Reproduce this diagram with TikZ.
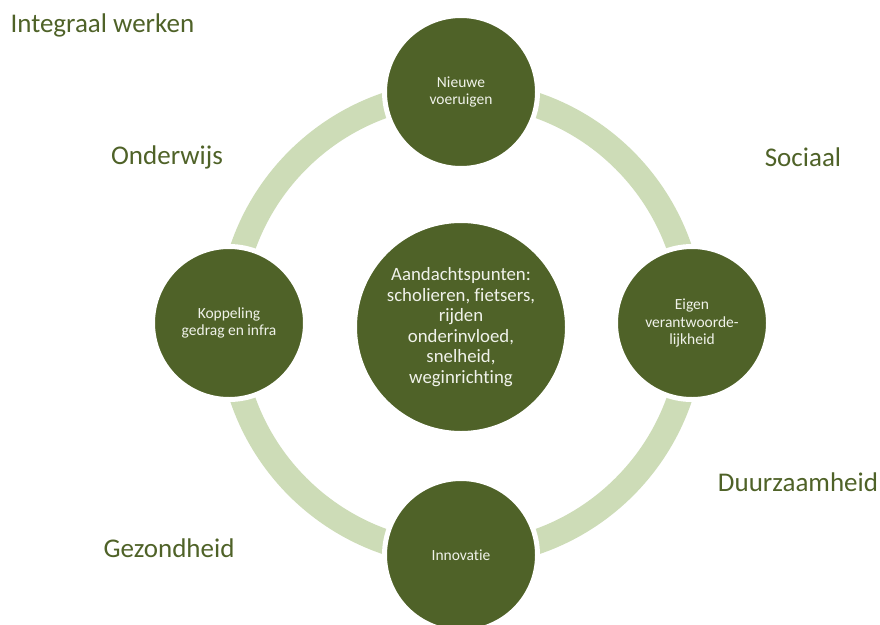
\documentclass[tikz,border=0pt]{standalone}
\usepackage{fontspec}
\setmainfont{Carlito}[Ligatures=NoCommon]
\definecolor{olive}{RGB}{79,98,40}
\definecolor{ringgreen}{RGB}{205,220,183}
\definecolor{lighttext}{RGB}{240,242,234}
\tikzset{
  spoke/.style={circle, fill=olive, draw=white, line width=5pt, minimum size=153pt,
    inner sep=0pt, align=center, text=lighttext, font=\fontsize{15.5}{17.5}\selectfont},
  hub/.style={spoke, minimum size=213pt, font=\fontsize{18.8}{20.5}\selectfont},
  theme/.style={text=olive, font=\fontsize{27}{30}\selectfont}
}
\begin{document}
\begin{tikzpicture}[x=1pt, y=-1pt]
        \useasboundingbox (0,0) rectangle (880,624);
        % Ring behind the circles
        \coordinate (mid) at (461,323.5);
        \draw[ringgreen, line width=25pt] (mid) circle[radius=231];

        % Circles on the ring
        \node[spoke] (top) at (461,92) {Nieuwe\\voeruigen};
        \node[spoke] (right) at (692,323) {Eigen\\verantwoorde-\\lijkheid};
        \node[spoke] (bottom) at (461,555) {Innovatie};
        \node[spoke] (left) at (229,323) {Koppeling\\gedrag en infra};

        % Centre circle
        \node[hub] (centre) at (461,327) {Aandachtspunten:\\scholieren, fietsers,\\rijden\\onderinvloed,\\snelheid,\\weginrichting};

        % Themes around
        \node[theme, anchor=west] (integraal) at (7,25) {Integraal werken};
        \node[theme] (onderwijs) at (167,157) {Onderwijs};
        \node[theme] (sociaal) at (803,157) {Sociaal};
        \node[theme] (duurzaam) at (798,482) {Duurzaamheid};
        \node[theme] (gezond) at (169,548) {Gezondheid};
    \end{tikzpicture}
\end{document}
